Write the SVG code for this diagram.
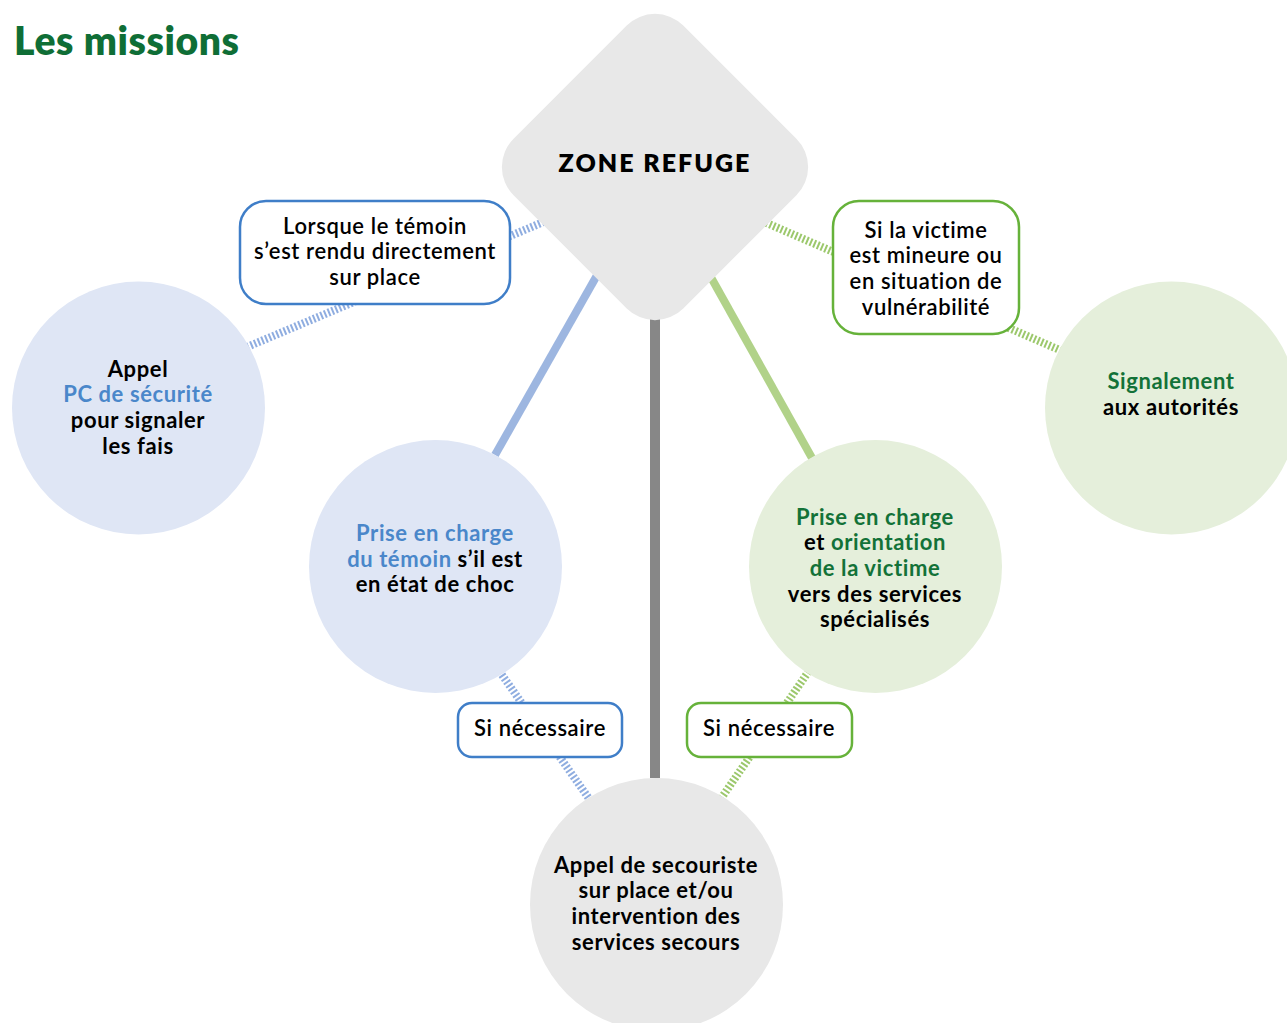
<svg xmlns="http://www.w3.org/2000/svg" width="1287" height="1023" viewBox="0 0 1287 1023">
<style>
text{font-family:Lato,"Open Sans","DejaVu Sans",sans-serif;text-anchor:middle;fill:#000}
.b{font-weight:700;font-size:22px;letter-spacing:0.6px}
.m{font-weight:600;font-size:22px;letter-spacing:0.6px}
.bl{fill:#4a87ca}
.gr{fill:#137238}
.cb{fill:#dfe6f5}
.cg{fill:#e5efdb}
.cy{fill:#e8e8e8}
.boxb{fill:#fff;stroke:#3f7ec8;stroke-width:2.5}
.boxg{fill:#fff;stroke:#66b23a;stroke-width:2.5}
.hb{stroke:#8fade0;stroke-width:8;stroke-dasharray:2 2;fill:none}
.hg{stroke:#9cc86c;stroke-width:8;stroke-dasharray:2 2;fill:none}
</style>
<rect width="1287" height="1023" fill="#fff"/>
<text x="14" y="55" style="text-anchor:start;font-weight:800;font-size:39px;letter-spacing:0.6px;fill:#0f6e36">Les missions</text>

<g id="connectors">
<line class="hb" x1="247" y1="347" x2="560" y2="215"/>
<line class="hg" x1="755" y1="218" x2="1062" y2="351"/>
<line class="hb" x1="495" y1="665" x2="590" y2="800"/>
<line class="hg" x1="813" y1="665" x2="720" y2="800"/>
<line x1="600" y1="270" x2="495" y2="455" stroke="#9db6e0" stroke-width="8"/>
<line x1="708" y1="272" x2="812" y2="458" stroke="#b1d289" stroke-width="8"/>
<line x1="655" y1="300" x2="655" y2="778" stroke="#878787" stroke-width="10"/>
</g>

<g id="zone-refuge">
<rect x="535" y="47" width="240" height="240" rx="40" transform="rotate(45 655 167)" class="cy"/>
<text x="655" y="172" style="font-weight:800;font-size:25px;letter-spacing:2px">ZONE REFUGE</text>
</g>

<g id="appel-pc">
<circle cx="138.5" cy="408" r="126.5" class="cb"/>
<text class="b" x="138" y="377">Appel</text>
<text class="b bl" x="138" y="402">PC de sécurité</text>
<text class="b" x="138" y="428">pour signaler</text>
<text class="b" x="138" y="454">les fais</text>
</g>

<g id="prise-temoin">
<circle cx="435.5" cy="566.5" r="126.5" class="cb"/>
<text class="b bl" x="435" y="541">Prise en charge</text>
<text class="b" x="435" y="567"><tspan class="bl">du témoin</tspan> s’il est</text>
<text class="b" x="435" y="592">en état de choc</text>
</g>

<g id="prise-victime">
<circle cx="875.5" cy="566.5" r="126.5" class="cg"/>
<text class="b gr" x="875" y="525">Prise en charge</text>
<text class="b" x="875" y="550">et <tspan class="gr">orientation</tspan></text>
<text class="b gr" x="875" y="576">de la victime</text>
<text class="b" x="875" y="602">vers des services</text>
<text class="b" x="875" y="627">spécialisés</text>
</g>

<g id="signalement">
<circle cx="1171.5" cy="408" r="126.5" class="cg"/>
<text class="b gr" x="1171" y="389">Signalement</text>
<text class="b" x="1171" y="415">aux autorités</text>
</g>

<g id="secours">
<circle cx="656.5" cy="904.5" r="126.5" class="cy"/>
<text class="b" x="656" y="873">Appel de secouriste</text>
<text class="b" x="656" y="898">sur place et/ou</text>
<text class="b" x="656" y="924">intervention des</text>
<text class="b" x="656" y="950">services secours</text>
</g>

<g id="box-temoin">
<rect x="240" y="201" width="270" height="103" rx="26" class="boxb"/>
<text class="m" x="375" y="234">Lorsque le témoin</text>
<text class="m" x="375" y="259">s’est rendu directement</text>
<text class="m" x="375" y="285">sur place</text>
</g>

<g id="box-victime">
<rect x="833" y="201" width="186" height="133" rx="26" class="boxg"/>
<text class="m" x="926" y="238">Si la victime</text>
<text class="m" x="926" y="263">est mineure ou</text>
<text class="m" x="926" y="289">en situation de</text>
<text class="m" x="926" y="315">vulnérabilité</text>
</g>

<g id="box-si-bleu">
<rect x="458" y="703" width="164" height="54" rx="14" class="boxb"/>
<text class="m" x="540" y="736">Si nécessaire</text>
</g>

<g id="box-si-vert">
<rect x="687" y="703" width="165" height="54" rx="14" class="boxg"/>
<text class="m" x="769" y="736">Si nécessaire</text>
</g>
</svg>
